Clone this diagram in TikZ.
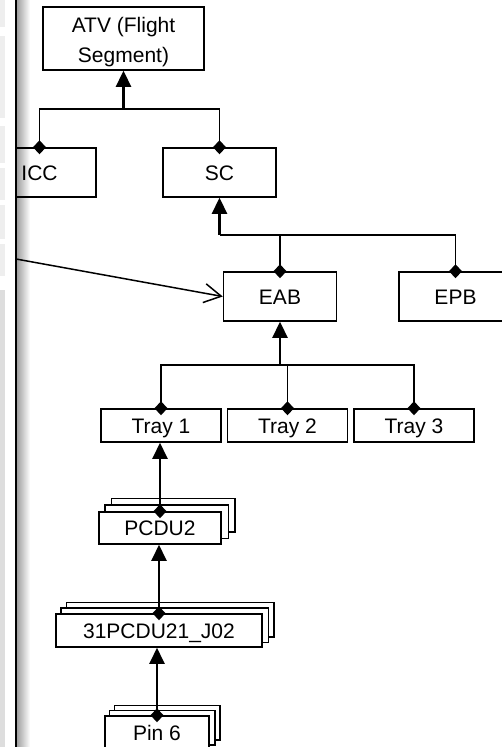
\documentclass[tikz,border=0pt]{standalone}
\usepackage{fontspec}
\setmainfont{Liberation Sans}
\usetikzlibrary{arrows.meta,backgrounds,calc}
\definecolor{barA}{HTML}{EEEEEE}
\definecolor{barB}{HTML}{DDDDDD}
\definecolor{shadeC}{HTML}{9A9A9A}
\tikzset{
  boxbase/.style={draw, line width=1.5pt, fill=white, inner sep=0pt, font=\fontsize{21}{30}\selectfont},
  box/.style={boxbase, text height=15pt, text depth=0pt},
  stackback/.style={draw, line width=1.5pt, fill=white},
  bus/.style={line width=1.7pt},
  upar/.style={line width=2.3pt, -{Triangle[length=16pt,width=15pt]}},
  dia/.style={-{Diamond[length=14pt,width=13pt]}, shorten >=-7pt},
  diab/.style={{Diamond[length=14pt,width=13pt]}-{Diamond[length=14pt,width=13pt]}, shorten >=-7pt, shorten <=-7pt},
  stackar/.style={line width=2pt, {Diamond[length=14pt,width=13pt]}-{Triangle[length=16pt,width=15pt]}, shorten <=-7pt},
}
\newcommand\stackof[2]{%
  \begin{scope}[on background layer]
    \draw[stackback] ($(#1.south west)+(2*#2,-2*#2)$) rectangle ($(#1.north east)+(2*#2,-2*#2)$);
    \draw[stackback] ($(#1.south west)+(#2,-#2)$) rectangle ($(#1.north east)+(#2,-#2)$);
  \end{scope}}
\begin{document}
\begin{tikzpicture}[x=1pt,y=-1pt]
\clip (0,0) rectangle (502,747);
% gradient behind the content
\shade[left color=shadeC, right color=white] (16,0) rectangle (30,747);
% boxes
\node[boxbase, minimum width=161pt, minimum height=63pt, align=center] (ATV) at (123.5,38.5) {\rule{0pt}{21.5pt}ATV (Flight\\Segment)};
\node[box, fill=none, minimum width=113pt, minimum height=49pt] (ICC) at (39.5,172.5) {ICC};
\node[box, minimum width=113pt, minimum height=49pt] (SC) at (219.5,172.5) {SC};
\node[box, minimum width=113pt, minimum height=49pt] (EAB) at (280,296.5) {EAB};
\node[box, minimum width=113pt, minimum height=49pt] (EPB) at (455.5,296.5) {EPB};
\node[box, minimum width=120pt, minimum height=33pt] (T1) at (161,425.5) {Tray 1};
\node[box, minimum width=120pt, minimum height=33pt] (T2) at (287.5,425.5) {Tray 2};
\node[box, minimum width=120pt, minimum height=33pt] (T3) at (414,425.5) {Tray 3};
\node[box, minimum width=122pt, minimum height=32pt] (PCDU) at (160,528) {PCDU2};
\stackof{PCDU}{6.5}
\node[box, minimum width=206pt, minimum height=33pt] (J02) at (159,630.5) {31PCDU21\_J02};
\stackof{J02}{5.5}
\node[box, minimum width=104pt, minimum height=33pt] (Pin) at (157,732.5) {Pin 6};
\stackof{Pin}{5}
% bus points
\coordinate (b1) at (123.5,109);
\coordinate (b2) at (219.5,235);
\coordinate (b3) at (280,365);
\coordinate (ext) at (16,259);
% connectors
\draw[bus, diab] (ICC.north) |- (b1) -| (SC.north);
\draw[upar] (b1) -- (ATV.south);
\draw[bus, dia] (b2) -| (EPB.north);
\draw[bus, dia] (EAB.north |- b2) -- (EAB.north);
\draw[upar] (b2) -- (SC.south);
\draw[bus, diab] (T1.north) |- (b3) -| (T3.north);
\draw[bus, dia] (T2.north |- b3) -- (T2.north);
\draw[upar] (b3) -- (EAB.south);
\draw[stackar] (PCDU.north) -- (PCDU.north |- T1.south);
\draw[stackar] (J02.north) -- (J02.north |- PCDU.south);
\draw[stackar] (Pin.north) -- (Pin.north |- J02.south);
\draw[line width=1.5pt, -{Straight Barb[length=17pt,width=19pt]}] (ext) -- (EAB.west);
% left panel
\fill[white] (0,0) rectangle (16,747);
\fill[barA] (0,0) rectangle (5,27);
\fill[barA] (0,36) rectangle (5,118);
\fill[barA] (0,126) rectangle (5,163);
\fill[barA] (0,168) rectangle (5,200);
\fill[barA] (0,205) rectangle (5,239);
\fill[barA] (0,244) rectangle (5,276);
\fill[barB] (0,290) rectangle (5,747);
\draw[line width=1.5pt] (16,0) -- (16,747);
\end{tikzpicture}
\end{document}
